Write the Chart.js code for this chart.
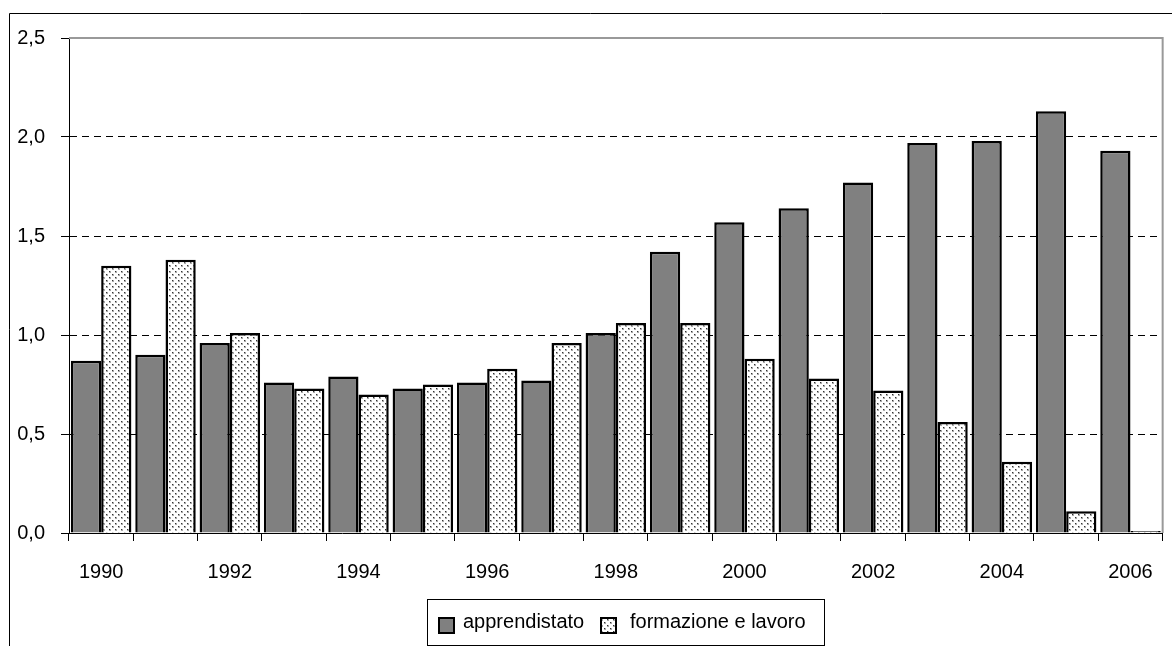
<!DOCTYPE html>
<html>
<head>
<meta charset="utf-8">
<script src="https://cdn.jsdelivr.net/npm/chart.js@4/dist/chart.umd.min.js"></script>
<style>
    html, body { margin: 0; padding: 0; background: #fff; }
    #contenitore { width: 1172px; height: 646px; }
</style>
</head>
<body>
<div id="contenitore"><canvas id="graficoContratti" width="1172" height="646"></canvas></div>
<script>
// Dati
const anni = ['1990', '1991', '1992', '1993', '1994', '1995', '1996', '1997', '1998',
    '1999', '2000', '2001', '2002', '2003', '2004', '2005', '2006'];
const apprendistato = [0.87, 0.90, 0.96, 0.76, 0.79, 0.73, 0.76, 0.77, 1.01,
    1.42, 1.57, 1.64, 1.77, 1.97, 1.98, 2.13, 1.93];
const formazioneLavoro = [1.35, 1.38, 1.01, 0.73, 0.70, 0.75, 0.83, 0.96, 1.06,
    1.06, 0.88, 0.78, 0.72, 0.56, 0.36, 0.11, 0.01];
const etichetteSerie = ['apprendistato', 'formazione e lavoro'];
const asseYMax = 2.5;
const passoY = 0.5;

const canvas = document.getElementById('graficoContratti');
const ctx = canvas.getContext('2d');

// Trama a puntini per la seconda serie
function creaTrama() {
    const t = document.createElement('canvas');
    t.width = 6;
    t.height = 6;
    const g = t.getContext('2d');
    g.fillStyle = '#fff';
    g.fillRect(0, 0, 6, 6);
    g.fillStyle = '#aaa';
    g.fillRect(1, 1, 2, 2);
    g.fillRect(4, 4, 2, 2);
    g.fillStyle = '#333';
    g.fillRect(1, 1, 1, 1);
    g.fillRect(4, 4, 1, 1);
    return ctx.createPattern(t, 'repeat');
}
const trama = creaTrama();

Chart.defaults.font.family = '"Liberation Sans", Arial, sans-serif';
Chart.defaults.font.size = 20;
Chart.defaults.color = '#000';

// Cornice esterna, bordo grigio del grafico e legenda con riquadro
const cornice = {
    id: 'cornice',
    afterDraw(chart) {
        const c = chart.ctx;
        const a = chart.chartArea;
        c.save();
        c.strokeStyle = '#999';
        c.lineWidth = 2;
        c.beginPath();
        c.moveTo(a.left, a.top);
        c.lineTo(a.right, a.top);
        c.lineTo(a.right, a.bottom);
        c.stroke();

        c.strokeStyle = '#000';
        c.lineWidth = 1;
        c.beginPath();
        c.moveTo(9.5, 646);
        c.lineTo(9.5, 13.5);
        c.lineTo(1172, 13.5);
        c.stroke();

        // legenda
        c.strokeRect(427.5, 599.5, 397, 46);
        const ds = chart.data.datasets;
        const posQuadrati = [439, 601];
        const posTesti = [463, 630];
        c.font = '20px "Liberation Sans", Arial, sans-serif';
        c.textBaseline = 'alphabetic';
        ds.forEach((d, i) => {
            c.fillStyle = d.backgroundColor;
            c.fillRect(posQuadrati[i], 618, 15, 15);
            c.lineWidth = 2;
            c.strokeStyle = '#000';
            c.strokeRect(posQuadrati[i], 618, 15, 15);
            c.fillStyle = '#000';
            c.fillText(d.label, posTesti[i], 628);
        });
        c.restore();
    }
};

new Chart(ctx, {
    type: 'bar',
    data: {
        labels: anni,
        datasets: [
            {
                label: etichetteSerie[0],
                data: apprendistato,
                backgroundColor: '#808080',
                borderColor: '#000',
                borderWidth: 2.5,
                borderSkipped: 'bottom'
            },
            {
                label: etichetteSerie[1],
                data: formazioneLavoro,
                backgroundColor: trama,
                borderColor: '#000',
                borderWidth: 2.5,
                borderSkipped: 'bottom'
            }
        ]
    },
    options: {
        responsive: false,
        animation: false,
        devicePixelRatio: 1,
        layout: {
            padding: { left: 0, top: 38, right: 9, bottom: 53 }
        },
        plugins: {
            legend: { display: false },
            tooltip: { enabled: false }
        },
        datasets: {
            bar: { categoryPercentage: 0.94, barPercentage: 1.0 }
        },
        scales: {
            x: {
                offset: true,
                grid: {
                    display: true,
                    drawOnChartArea: false,
                    tickLength: 8,
                    tickColor: '#000',
                    offset: true
                },
                border: { color: '#000', width: 1 },
                ticks: {
                    autoSkip: false,
                    maxRotation: 0,
                    padding: 19,
                    callback: function (val, i) {
                        return i % 2 === 0 ? this.getLabelForValue(val) : '';
                    }
                },
                afterFit: function (scale) { scale.height = 60; }
            },
            y: {
                min: 0,
                max: asseYMax,
                grid: {
                    color: (c) => (c.tick && c.tick.value === asseYMax) ? 'rgba(0,0,0,0)' : '#000',
                    lineWidth: 1,
                    tickLength: 8,
                    tickColor: '#000'
                },
                border: { color: '#000', width: 1, dash: [7, 5] },
                ticks: {
                    stepSize: passoY,
                    padding: 16,
                    callback: (v) => v.toFixed(1).replace('.', ',')
                },
                afterFit: function (scale) { scale.width = 69; }
            }
        }
    },
    plugins: [cornice]
});
</script>
</body>
</html>
